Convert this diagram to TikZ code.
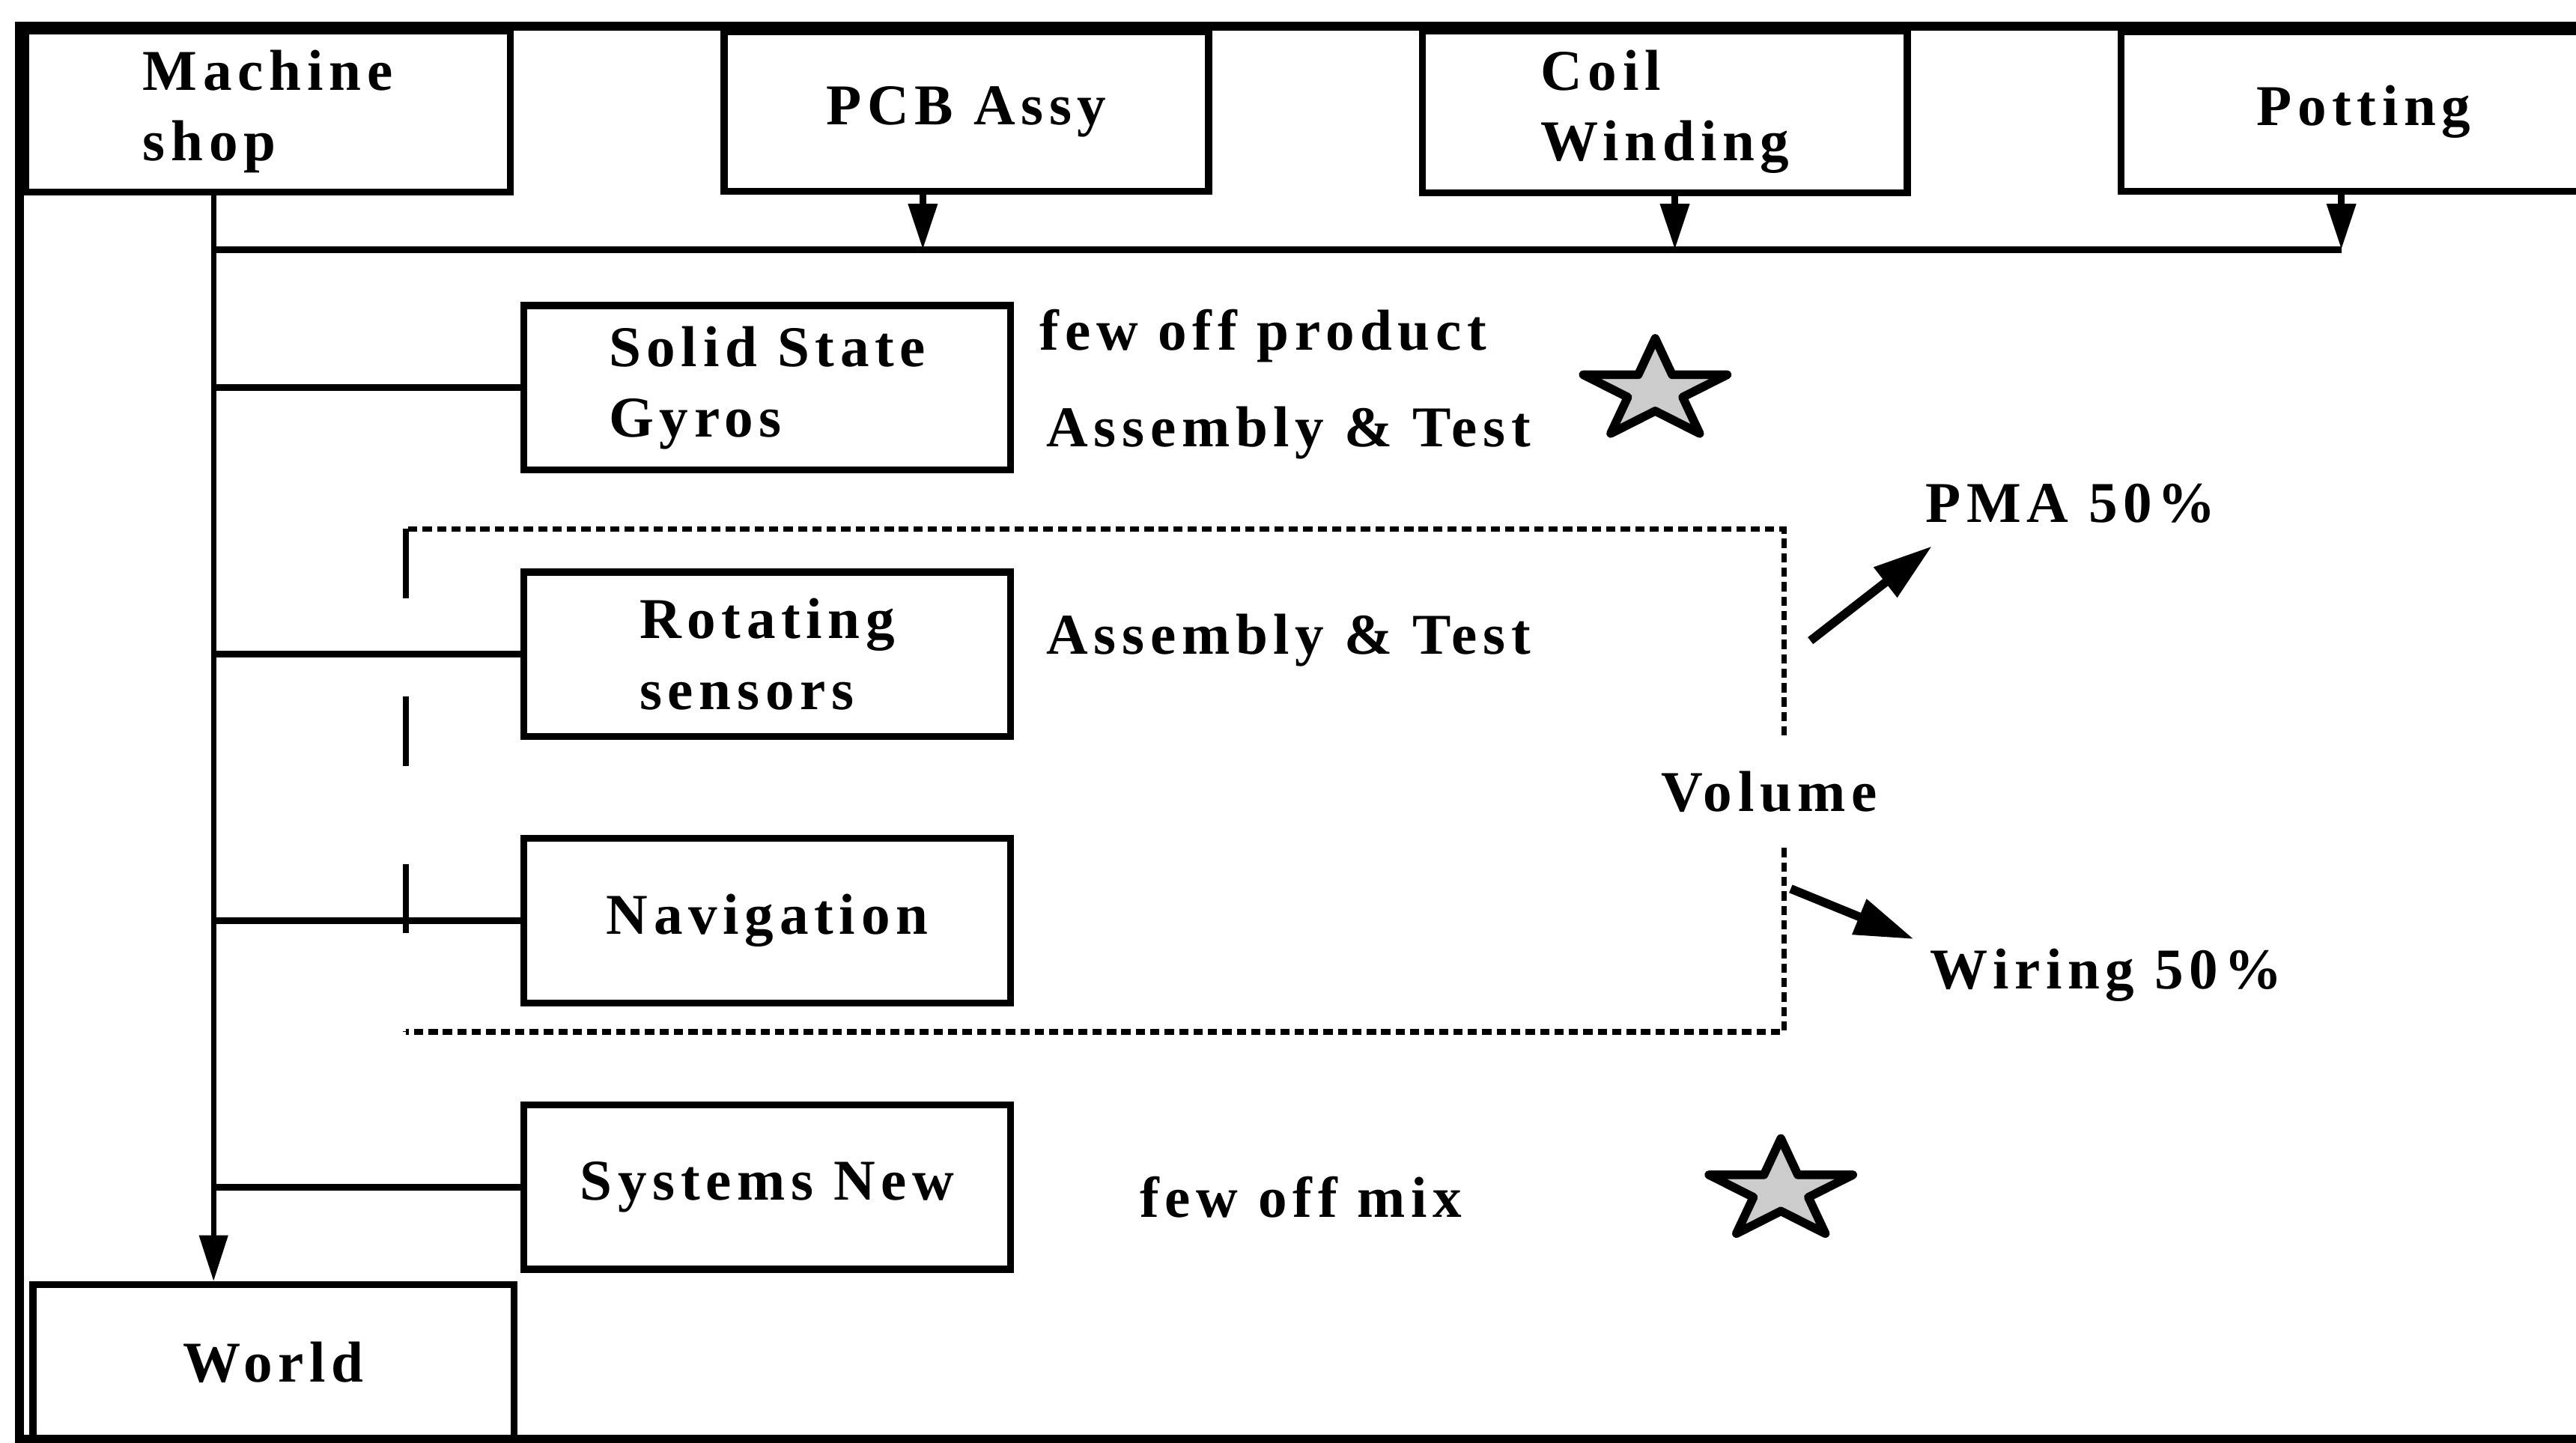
\documentclass[tikz,border=0pt]{standalone}
\usepackage{fontspec}
\newfontfamily\labfont[LetterSpace=10]{Liberation Serif}
\newcommand\diagfont{\labfont\bfseries\fontsize{10}{12.2}\selectfont}
\usetikzlibrary{positioning,arrows.meta}

\begin{document}
\begin{tikzpicture}[
  node distance=0.58cm and 1.26cm,
  box/.style={draw, line width=1.2pt, minimum width=2.95cm, minimum height=0.97cm, align=left, font=\diagfont},
  lowbox/.style={box, minimum width=2.96cm, minimum height=1.0cm},
  lbl/.style={font=\diagfont, inner sep=1.5pt},
  link/.style={line width=1.2pt},
  arrow/.style={-{Triangle[length=2.8mm, width=1.7mm]}, line width=1.2pt},
  bigarrow/.style={-{Triangle[length=3.6mm, width=2.2mm]}, line width=1.5pt},
  frameline/.style={line width=1.6pt},
  grpline/.style={line width=1pt, dash pattern=on 1.6pt off 0.9pt},
  grpside/.style={line width=1pt, dash pattern=on 12pt off 17pt},
  starmark/.style={draw, line width=1.5pt, fill=gray!40, line join=round}
]
\useasboundingbox (0,0) rectangle (15.68,8.78);
\clip (0,0) rectangle (15.68,8.78);

% outer frame
\draw[frameline] (15.9,8.62) -- (0.12,8.62) -- (0.12,0.02) -- (15.9,0.02);

% supplier row
\node[box] (ms) at (1.63,8.10) {Machine\\shop};
\node[box, right=of ms] (pcb) {PCB Assy};
\node[box, right=of pcb] (coil) {Coil\\Winding};
\node[box, right=of coil] (pot) {Potting};

% product lines
\node[lowbox] (ssg) at (4.67,6.42) {Solid State\\Gyros};
\node[lowbox, below=of ssg] (rot) {Rotating\\sensors};
\node[lowbox, below=of rot] (nav) {Navigation};
\node[lowbox, below=of nav] (sys) {Systems New};
\node[box, minimum width=2.93cm, minimum height=0.95cm] (world) at (1.665,0.485) {World};

% bus and trunk
\coordinate (trunk) at (1.30,7.26);
\draw[link] (trunk) -- ([xshift=-1.35mm]pot.south |- trunk);
\foreach \n/\dx in {pcb/-2.65mm, coil/0.6mm, pot/-1.35mm}
  \draw[arrow] ([xshift=\dx]\n.south) -- ([xshift=\dx]\n.south |- trunk);
\draw[arrow, line width=0.9pt] (ms.south -| trunk) -- (world.north -| trunk);
\foreach \n in {ssg,rot,nav,sys}
  \draw[link] (\n.west -| trunk) -- (\n.west);

% notes
\node[lbl, anchor=base west] (fewp) at (6.27,6.65) {few off product};
\node[lbl, anchor=base west] (at1) at (6.31,6.06) {Assembly \& Test};
\node[lbl, anchor=base west] (at2) at (6.31,4.80) {Assembly \& Test};
\node[lbl, anchor=base west] (mix) at (6.88,1.37) {few off mix};
\node[lbl, anchor=base west] (pma) at (11.66,5.60) {PMA 50\%};
\node[lbl, anchor=base west] (wir) at (11.69,2.76) {Wiring 50\%};
\node[lbl, minimum height=0.67cm] (vol) at (10.77,3.96) {Volume};

% volume group
\coordinate (gnw) at (2.47,5.56);
\coordinate (gse) at (10.86,2.50);
\draw[grpline] (vol.north -| gse) |- (gnw);
\draw[grpline] (vol.south -| gse) |- (gnw |- gse);
\draw[grpside] (gnw) -- (gnw |- gse);

\coordinate (pmafrom) at (11.02,4.88);
\coordinate (wirfrom) at (10.90,3.37);
\draw[bigarrow] (pmafrom) -- ([shift={(1mm,-0.8mm)}]pma.south west);
\draw[bigarrow] (wirfrom) -- ([shift={(-0.4mm,0mm)}]wir.north west);

% stars
\draw[starmark, shift={(10.075,6.40)}, xscale=1.44] (90:0.32)
  \foreach \a in {126,198,270,342} {-- (\a:0.122) -- (\a+36:0.32)} -- (54:0.122) -- cycle;
\draw[starmark, shift={(10.84,1.53)}, xscale=1.44] (90:0.32)
  \foreach \a in {126,198,270,342} {-- (\a:0.122) -- (\a+36:0.32)} -- (54:0.122) -- cycle;
\end{tikzpicture}
\end{document}
